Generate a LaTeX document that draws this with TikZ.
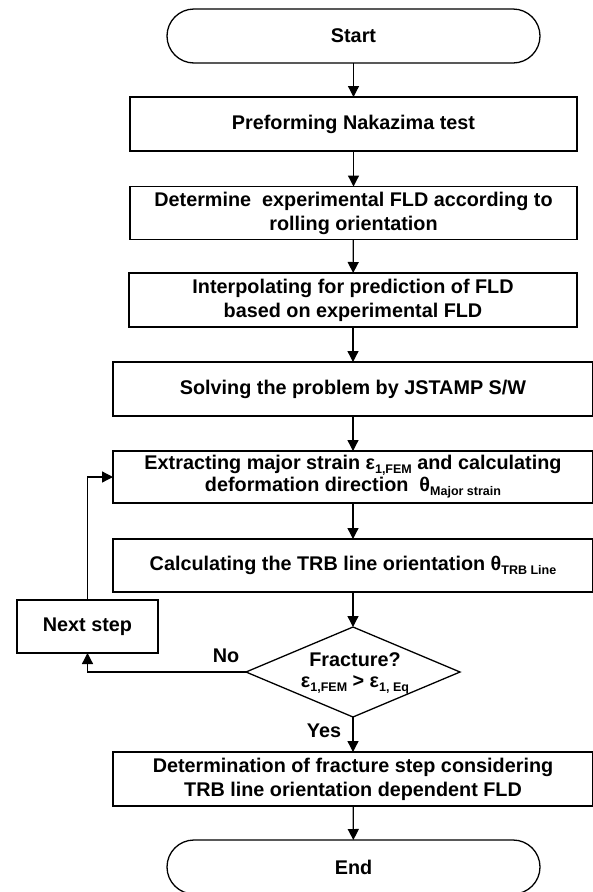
\documentclass[tikz,border=0pt]{standalone}
\usepackage{fontspec}
\setmainfont{Liberation Sans}
\usetikzlibrary{arrows.meta,shapes.geometric}
\newcommand{\lowsub}[1]{\raisebox{-4pt}{\fontsize{12.5}{12}\selectfont #1}}
\begin{document}
\begin{tikzpicture}[x=1pt,y=-1pt,
  every node/.style={font=\fontsize{19.8}{24}\selectfont\bfseries, inner sep=0pt, outer sep=0pt},
  box/.style={draw, line width=1.3pt, rectangle, align=center},
  term/.style={draw, line width=1.3pt, rectangle, rounded corners=27pt, minimum width=373pt, minimum height=54pt},
  arr/.style={-{Triangle[length=11pt,width=11pt]}, line width=1.3pt},
  lbl/.style={font=\fontsize{19.8}{24}\selectfont\bfseries}]
\clip (0,0) rectangle (593,892);
\useasboundingbox (0,0) rectangle (593,892);

\node[term] (start) at (353.5,36) {Start};
\node[box, minimum width=447pt, minimum height=54pt] (b1) at (353.5,124) {Preforming Nakazima test};
\node[box, minimum width=447pt, minimum height=53pt] (b2) at (353.5,213) {Determine\ \ experimental FLD according to\\rolling orientation};
\node[box, minimum width=448pt, minimum height=54pt] (b3) at (353,300) {Interpolating for prediction of FLD\\based on experimental FLD};
\node[box, minimum width=480pt, minimum height=54pt] (b4) at (353,389) {Solving the problem by JSTAMP S/W};
\node[box, minimum width=480pt, minimum height=52pt, font=\fontsize{19.8}{22}\selectfont\bfseries] (b5) at (353,477) {Extracting major strain ε\lowsub{1,FEM} and calculating\\deformation direction\ \ θ\lowsub{Major strain}};
\node[box, minimum width=480pt, minimum height=53pt] (b6) at (353,565.5) {Calculating the TRB line orientation θ\lowsub{TRB Line}};
\node[draw, line width=1.3pt, diamond, minimum width=214pt, minimum height=90pt, aspect=2.38] (dec) at (353,672) {};
\node[align=center, font=\fontsize{19.8}{21}\selectfont\bfseries] (dectext) at (355,673) {Fracture?\\ε\lowsub{1,FEM} > ε\lowsub{1, Eq}};
\node[box, minimum width=141pt, minimum height=53pt] (next) at (87.5,626.5) {Next step};
\node[box, minimum width=480pt, minimum height=54pt] (b7) at (353,779) {Determination of fracture step considering\\TRB line orientation dependent FLD};
\node[term] (end) at (353.5,867) {End};

\node[lbl] (no) at (226,656) {No};
\node[lbl] (yes) at (324,731) {Yes};

\draw[arr] (start) -- (b1);
\draw[arr] (b1) -- (b2);
\draw[arr] (b2) -- (b3);
\draw[arr] (b3) -- (b4);
\draw[arr] (b4) -- (b5);
\draw[arr] (b5) -- (b6);
\draw[arr] (b6) -- (dec);
\draw[arr] (dec) -- (b7);
\draw[arr] (b7) -- (end);
\draw[arr] (dec.west) -| (next.south);
\draw[arr] (next.north) |- (b5.west);
\end{tikzpicture}
\end{document}
